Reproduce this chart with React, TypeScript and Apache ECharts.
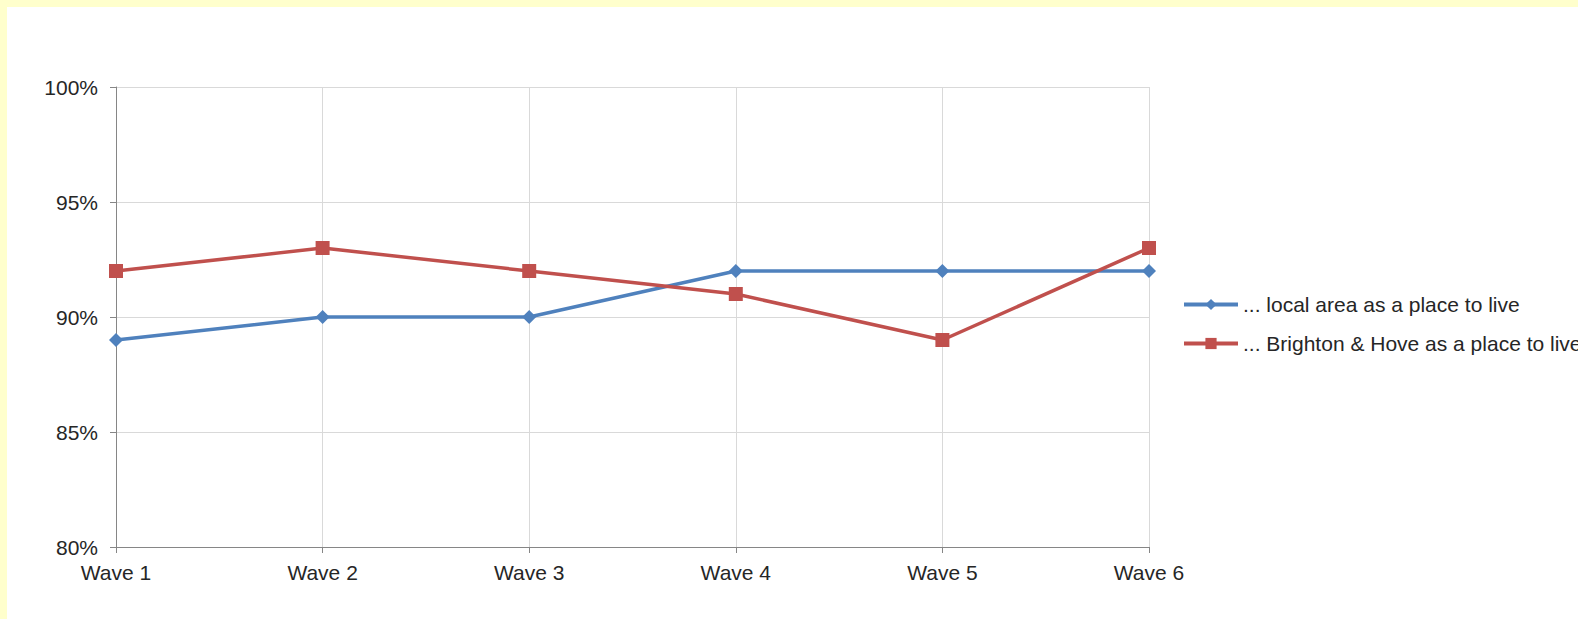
import React, { useEffect, useRef } from "react";
import * as echarts from "echarts";

// Survey waves and satisfaction shares (%)
const waves = ["Wave 1", "Wave 2", "Wave 3", "Wave 4", "Wave 5", "Wave 6"];
const localArea = [89, 90, 90, 92, 92, 92];
const brightonHove = [92, 93, 92, 91, 89, 93];
const seriesNames = [
  "... local area as a place to live",
  "... Brighton & Hove as a place to live",
];

const FONT = "'Liberation Sans', Arial, sans-serif";
const TEXT = "#262626";
const FS = 21;

export default function App() {
  const ref = useRef<HTMLDivElement>(null);

  useEffect(() => {
    if (!ref.current) return;
    const chart = echarts.init(ref.current, null, { renderer: "svg" });
    chart.setOption({
      animation: false,
      backgroundColor: "#ffffff",
      textStyle: { fontFamily: FONT },
      grid: { left: 109, right: 429, top: 80, bottom: 72, containLabel: false },
      legend: {
        orient: "vertical",
        left: 1170,
        top: 282,
        padding: 5,
        itemWidth: 54,
        itemHeight: 14,
        itemGap: 18,
        lineStyle: { width: 4 },
        textStyle: { fontFamily: FONT, fontSize: FS, color: TEXT, lineHeight: 21 },
        data: seriesNames,
      },
      xAxis: {
        type: "category",
        data: waves,
        boundaryGap: false,
        axisLine: { lineStyle: { color: "#868686", width: 1 } },
        axisTick: { show: true, length: 6, lineStyle: { color: "#868686" } },
        axisLabel: { color: TEXT, fontSize: FS, fontFamily: FONT, margin: 15 },
        splitLine: { show: true, lineStyle: { color: "#D9D9D9", width: 1 } },
      },
      yAxis: {
        type: "value",
        min: 80,
        max: 100,
        interval: 5,
        axisLine: { show: true, lineStyle: { color: "#868686", width: 1 } },
        axisTick: { show: true, length: 6, lineStyle: { color: "#868686" } },
        axisLabel: {
          color: TEXT,
          fontSize: FS,
          fontFamily: FONT,
          margin: 18,
          formatter: "{value}%",
        },
        splitLine: { show: true, lineStyle: { color: "#D9D9D9", width: 1 } },
      },
      series: [
        {
          name: seriesNames[0],
          type: "line",
          data: localArea,
          symbol: "diamond",
          symbolSize: 14,
          showAllSymbol: true,
          lineStyle: { color: "#4F81BD", width: 3.5 },
          itemStyle: { color: "#4F81BD" },
          z: 3,
        },
        {
          name: seriesNames[1],
          type: "line",
          data: brightonHove,
          symbol: "rect",
          symbolSize: 14,
          showAllSymbol: true,
          lineStyle: { color: "#C0504D", width: 3.5 },
          itemStyle: { color: "#C0504D" },
          z: 4,
        },
      ],
    });
    return () => chart.dispose();
  }, []);

  return (
    <div
      style={{
        position: "absolute",
        left: 0,
        top: 0,
        width: 1578,
        height: 619,
        background: "#FFFFCC",
        overflow: "hidden",
      }}
    >
      <div
        ref={ref}
        style={{ position: "absolute", left: 7, top: 7, width: 1571, height: 612 }}
      />
    </div>
  );
}
